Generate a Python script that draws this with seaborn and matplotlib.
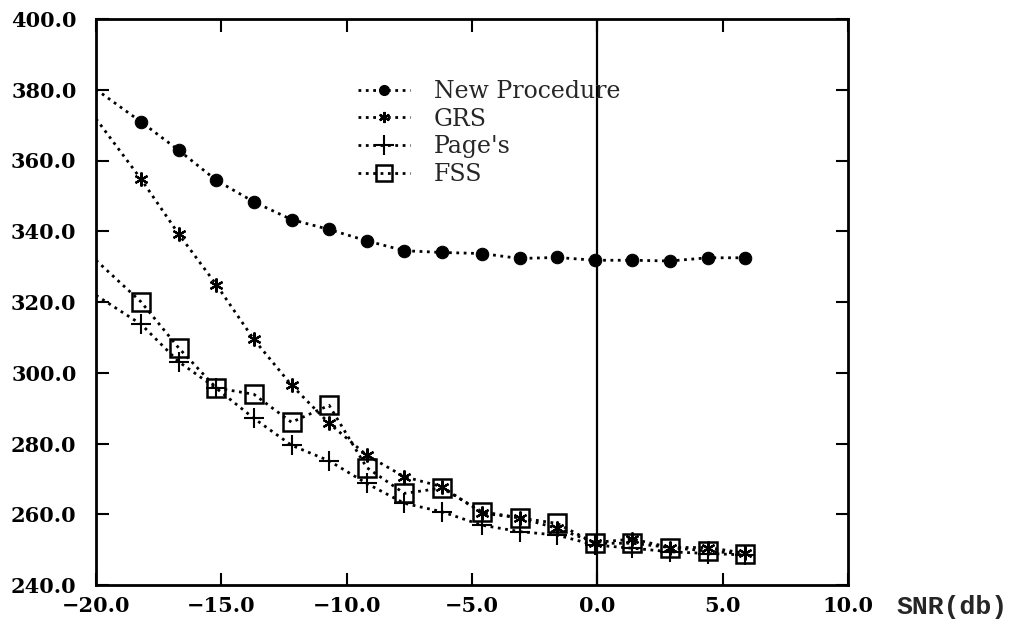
import matplotlib
matplotlib.use("Agg")
import matplotlib.pyplot as plt
from matplotlib.lines import Line2D
import seaborn as sns
import pandas as pd

# ---- data ----
snr = [-18.2, -16.7, -15.2, -13.7, -12.2, -10.7, -9.2, -7.7, -6.2,
       -4.6, -3.1, -1.6, -0.1, 1.4, 2.9, 4.4, 5.9]
snr_start = -20.0

new_procedure = [370.9, 362.9, 354.4, 348.3, 343.3, 340.5, 337.3, 334.5, 334.0,
                 333.7, 332.3, 332.6, 331.8, 331.8, 331.6, 332.5, 332.5]
new_procedure_start = 380.1

grs = [354.7, 339.2, 324.9, 309.4, 296.5, 285.7, 276.7, 270.6, 267.8,
       260.3, 259.0, 256.0, 252.0, 253.0, 250.6, 250.6, 249.0]
grs_start = 371.8

pages = [313.7, 303.1, 295.6, 287.1, 279.5, 275.1, 268.7, 263.1, 260.7,
         256.9, 255.1, 254.1, 251.3, 250.4, 249.4, 248.9, 248.5]
pages_start = 321.9

fss = [320.0, 307.0, 295.7, 293.9, 286.0, 290.8, 273.2, 265.9, 267.4,
       260.7, 259.0, 257.4, 251.8, 251.8, 250.6, 249.6, 248.8]
fss_start = 331.8

series_names = ["New Procedure", "GRS", "Page's", "FSS"]
x_ticks = [-20.0, -15.0, -10.0, -5.0, 0.0, 5.0, 10.0]
y_ticks = [240.0, 260.0, 280.0, 300.0, 320.0, 340.0, 360.0, 380.0, 400.0]
x_label = "SNR(db)"

# ---- styling ----
sns.set_theme(style="ticks")
plt.rcParams["font.family"] = ["DejaVu Serif", "DejaVu Sans"]

fig = plt.figure(figsize=(10.17, 6.2), dpi=100)
ax = fig.add_axes([96 / 1017, 1 - 585 / 620, (848 - 96) / 1017, (585 - 19) / 620])

marker_styles = {
    "New Procedure": dict(marker="o", markersize=9, markerfacecolor="black",
                          markeredgecolor="black"),
    "GRS": dict(marker=(6, 2, 0), markersize=10, markeredgewidth=1.6,
                markeredgecolor="black"),
    "Page's": dict(marker="+", markersize=15, markeredgewidth=1.5,
                   markeredgecolor="black"),
    "FSS": dict(marker="s", markersize=13, markerfacecolor="none",
                markeredgewidth=1.8, markeredgecolor="black"),
}

all_series = {
    "New Procedure": (new_procedure_start, new_procedure),
    "GRS": (grs_start, grs),
    "Page's": (pages_start, pages),
    "FSS": (fss_start, fss),
}

line_kw = dict(color="black", linestyle=":", linewidth=2.0)

for name in series_names:
    start, vals = all_series[name]
    df_line = pd.DataFrame({"x": [snr_start] + snr, "y": [start] + vals})
    sns.lineplot(data=df_line, x="x", y="y", ax=ax, sort=False,
                 estimator=None, legend=False, **line_kw)
    df_pts = pd.DataFrame({"x": snr, "y": vals})
    sns.lineplot(data=df_pts, x="x", y="y", ax=ax, sort=False,
                 estimator=None, legend=False, color="black",
                 linestyle="", **marker_styles[name])

ax.axvline(0.0, color="black", linewidth=1.6)

ax.set_xlim(-20, 10)
ax.set_ylim(240, 400)
ax.set_xticks(x_ticks)
ax.set_yticks(y_ticks)
ax.set_xticklabels([f"{v:.1f}".replace("-", "\u2212") for v in x_ticks])
ax.set_yticklabels([f"{v:.1f}" for v in y_ticks])
for lab in ax.get_xticklabels() + ax.get_yticklabels():
    lab.set_fontfamily("DejaVu Serif")
    lab.set_fontweight("bold")
    lab.set_fontsize(15)

ax.tick_params(axis="both", direction="in", length=9, width=1.5,
               top=True, right=True, colors="black")
ax.tick_params(axis="x", pad=8)
ax.tick_params(axis="y", pad=14)
for sp in ax.spines.values():
    sp.set_visible(True)
    sp.set_linewidth(2.0)
    sp.set_color("black")

ax.set_xlabel(x_label, fontfamily="Liberation Mono", fontsize=19,
              fontweight="bold", ha="left", va="top")
ax.xaxis.set_label_coords((896 - 96) / 752, -0.018)
ax.set_ylabel("")
ax.grid(False)
ax.set_facecolor("white")
fig.patch.set_facecolor("white")

handles = [Line2D([0], [0], **line_kw, **marker_styles[n]) for n in series_names]
handles[0].set_markersize(7)
handles[1].set_markersize(8)
handles[2].set_markersize(14)
handles[3].set_markersize(11)
leg = fig.legend(handles, series_names, loc="upper left",
                 bbox_to_anchor=(358 / 1017, 1 - 80 / 620),
                 frameon=False, borderpad=0, borderaxespad=0,
                 handlelength=2.2, handletextpad=1.0, labelspacing=0.2,
                 prop={"family": "DejaVu Serif", "size": 17})

fig.savefig("out.png", dpi=100, facecolor="white")
